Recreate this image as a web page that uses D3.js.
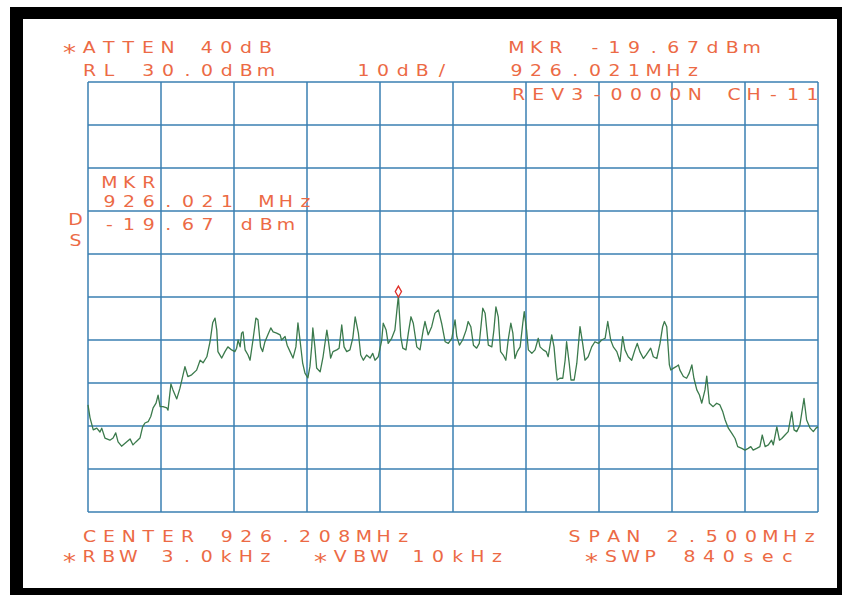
<!DOCTYPE html>
<html><head><meta charset="utf-8">
<script src="https://cdn.jsdelivr.net/npm/d3@7"></script>
<style>html,body{margin:0;padding:0;background:#fff;}svg{display:block;}</style>
</head><body>
<svg id="chart" width="842" height="595"></svg>
<script>
// ---- data ----
const freqMHz = [
924.958, 924.965, 924.976, 924.988, 924.999, 925.005, 925.016, 925.033, 925.044, 925.053,
925.061, 925.073, 925.085, 925.102, 925.112, 925.122, 925.136, 925.145, 925.153, 925.164,
925.173, 925.181, 925.191, 925.198, 925.205, 925.215, 925.228, 925.232, 925.242, 925.249,
925.262, 925.273, 925.290, 925.300, 925.313, 925.330, 925.342, 925.352, 925.365, 925.376,
925.385, 925.393, 925.399, 925.403, 925.416, 925.427, 925.437, 925.450, 925.461, 925.467,
925.472, 925.479, 925.484, 925.489, 925.496, 925.506, 925.513, 925.523, 925.533, 925.540,
925.549, 925.556, 925.564, 925.574, 925.584, 925.592, 925.604, 925.616, 925.621, 925.633,
925.640, 925.650, 925.660, 925.670, 925.677, 925.684, 925.693, 925.701, 925.711, 925.718,
925.724, 925.728, 925.735, 925.741, 925.753, 925.763, 925.776, 925.780, 925.789, 925.797,
925.810, 925.818, 925.827, 925.835, 925.844, 925.855, 925.865, 925.873, 925.884, 925.892,
925.901, 925.912, 925.924, 925.933, 925.941, 925.952, 925.964, 925.969, 925.979, 925.986,
925.998, 926.009, 926.021, 926.029, 926.036, 926.047, 926.055, 926.064, 926.072, 926.084,
926.095, 926.106, 926.112, 926.123, 926.135, 926.146, 926.158, 926.169, 926.181, 926.192,
926.204, 926.215, 926.221, 926.230, 926.241, 926.253, 926.260, 926.269, 926.278, 926.289,
926.298, 926.310, 926.318, 926.329, 926.341, 926.348, 926.355, 926.363, 926.371, 926.380,
926.389, 926.397, 926.406, 926.413, 926.420, 926.428, 926.438, 926.447, 926.452, 926.460,
926.466, 926.478, 926.489, 926.500, 926.506, 926.517, 926.527, 926.534, 926.546, 926.554,
926.561, 926.565, 926.574, 926.584, 926.592, 926.597, 926.606, 926.612, 926.623, 926.632,
926.643, 926.652, 926.660, 926.671, 926.683, 926.694, 926.706, 926.717, 926.729, 926.738,
926.748, 926.757, 926.769, 926.780, 926.789, 926.797, 926.808, 926.820, 926.831, 926.839,
926.848, 926.860, 926.869, 926.877, 926.885, 926.894, 926.906, 926.917, 926.926, 926.932,
926.940, 926.949, 926.954, 926.962, 926.972, 926.980, 926.985, 926.997, 927.008, 927.017,
927.026, 927.033, 927.043, 927.052, 927.060, 927.071, 927.077, 927.086, 927.099, 927.111,
927.122, 927.132, 927.140, 927.151, 927.163, 927.174, 927.183, 927.197, 927.208, 927.219,
927.228, 927.236, 927.248, 927.259, 927.267, 927.277, 927.288, 927.299, 927.305, 927.317,
927.326, 927.334, 927.345, 927.356, 927.368, 927.376, 927.385, 927.396, 927.410, 927.419,
927.431, 927.442, 927.451, 927.458
];
const levelDBm = [
-45.1, -48.1, -50.9, -50.5, -51.4, -50.5, -52.8, -53.3, -52.8, -51.6,
-53.7, -54.7, -54.0, -53.0, -54.4, -53.7, -52.8, -50.2, -49.3, -49.0,
-47.8, -45.8, -44.7, -42.8, -45.5, -45.5, -45.8, -46.3, -40.2, -41.6,
-43.7, -41.2, -36.2, -38.5, -38.1, -37.0, -34.7, -35.3, -33.9, -30.4,
-26.0, -24.9, -27.7, -32.7, -34.2, -32.7, -31.6, -32.3, -32.7, -31.9,
-30.0, -31.6, -28.4, -28.1, -32.3, -33.5, -34.7, -30.0, -24.9, -25.3,
-31.6, -32.7, -30.4, -28.8, -27.2, -28.1, -28.4, -28.8, -30.0, -29.2,
-31.2, -32.7, -34.2, -31.6, -26.0, -30.0, -35.3, -37.7, -38.8, -36.2,
-31.6, -27.2, -31.6, -36.5, -37.4, -33.9, -27.7, -29.5, -34.2, -32.7,
-32.3, -31.9, -26.5, -31.6, -32.7, -32.3, -29.5, -24.6, -28.4, -33.5,
-34.7, -33.5, -34.2, -33.1, -34.7, -33.9, -30.0, -26.1, -27.7, -30.8,
-29.6, -27.7, -19.67, -29.2, -31.9, -32.3, -28.4, -24.6, -26.1, -31.6,
-32.3, -27.7, -25.7, -28.8, -26.9, -23.8, -23.0, -26.1, -30.4, -30.8,
-29.6, -25.3, -29.2, -31.2, -30.0, -27.7, -25.7, -26.9, -31.2, -31.9,
-30.8, -22.6, -23.8, -31.2, -31.6, -27.7, -22.3, -24.6, -32.7, -33.5,
-34.7, -30.0, -26.1, -28.4, -34.3, -32.7, -31.6, -26.1, -23.4, -27.7,
-32.3, -33.1, -32.3, -29.6, -31.6, -32.3, -32.7, -33.9, -28.8, -31.6,
-37.0, -39.3, -38.9, -38.9, -34.7, -30.4, -35.4, -39.3, -39.3, -35.4,
-26.9, -30.8, -34.7, -33.9, -31.6, -30.4, -30.8, -30.0, -29.6, -25.7,
-30.0, -31.6, -32.7, -35.0, -29.2, -32.3, -33.9, -34.7, -32.3, -30.8,
-32.7, -34.3, -33.5, -32.7, -31.9, -33.9, -34.3, -30.8, -26.9, -25.7,
-26.9, -35.8, -37.0, -36.6, -36.2, -35.8, -37.0, -38.5, -38.9, -37.7,
-35.8, -38.9, -41.6, -42.8, -44.7, -41.6, -38.4, -44.7, -45.5, -44.7,
-45.1, -46.7, -48.6, -50.5, -51.7, -52.9, -54.8, -55.2, -55.6, -55.2,
-54.8, -55.6, -55.2, -54.8, -52.1, -54.8, -54.4, -53.3, -54.4, -50.2,
-53.3, -52.9, -52.1, -51.3, -46.7, -50.9, -51.3, -49.8, -43.6, -48.6,
-50.5, -51.3, -50.5, -50.2
];
const centerMHz = 926.208;
const spanMHz = 2.5;
const refLevelDBm = 30;
const dbPerDiv = 10;
const xDivisions = 10;
const yDivisions = 10;
const markerFreqMHz = 926.021;
const markerLevelDBm = -19.67;

// annotation texts: [string, left, baseline]
const annotations = [
  ["*ATTEN 40dB", 63, 53],
  ["RL 30.0dBm", 83, 76.5],
  ["10dB/", 357, 76.5],
  ["MKR -19.67dBm", 510, 53],
  ["926.021MHz", 510, 76.5],
  ["REV3-0000N CH-11", 512, 100],
  ["MKR", 103, 188.3],
  ["926.021 MHz", 103, 206.7],
  ["-19.67 dBm", 103, 230],
  ["D", 69, 225],
  ["S", 69, 246],
  ["CENTER 926.208MHz", 83, 541.7],
  ["SPAN 2.500MHz", 568, 541.7],
  ["*RBW 3.0kHz", 63, 561.7],
  ["*VBW 10kHz", 314, 561.7],
  ["*SWP 840sec", 585, 561.7]
];

// ---- drawing ----
const svg = d3.select("#chart");
const W = 842, H = 595;
const plot = {left: 88, right: 818, top: 82, bottom: 512};
const textColor = "#ec6a45";
const gridColor = "#3a7fb2";
const traceColor = "#3b7a4c";

// black frame
svg.append("rect").attr("x", 10).attr("y", 7).attr("width", W - 10).attr("height", H - 7).attr("fill", "#000");
svg.append("rect").attr("x", 23).attr("y", 19).attr("width", 837 - 23).attr("height", 588 - 19).attr("fill", "#fff");

const fStart = centerMHz - spanMHz / 2, fStop = centerMHz + spanMHz / 2;
const x = d3.scaleLinear().domain([fStart, fStop]).range([plot.left, plot.right]);
const yBottom = refLevelDBm - dbPerDiv * yDivisions;
const y = d3.scaleLinear().domain([yBottom, refLevelDBm]).range([plot.bottom, plot.top]);

const xGrid = d3.range(xDivisions + 1).map(i => fStart + i * spanMHz / xDivisions);
const yGrid = d3.range(yDivisions + 1).map(i => yBottom + i * dbPerDiv);

const grid = svg.append("g");
grid.selectAll("line.v").data(xGrid).join("line")
  .attr("x1", d => x(d)).attr("x2", d => x(d))
  .attr("y1", plot.top).attr("y2", plot.bottom)
  .attr("stroke", gridColor).attr("stroke-width", 1.5);
grid.selectAll("line.h").data(yGrid).join("line")
  .attr("y1", d => y(d)).attr("y2", d => y(d))
  .attr("x1", plot.left).attr("x2", plot.right)
  .attr("stroke", gridColor).attr("stroke-width", 1.5);

// trace
const pts = freqMHz.map((f, i) => [f, levelDBm[i]]);
svg.append("path").datum(pts)
  .attr("d", d3.line().x(d => x(d[0])).y(d => y(d[1])))
  .attr("fill", "none").attr("stroke", traceColor).attr("stroke-width", 1.3)
  .attr("stroke-linejoin", "round");

// marker
svg.append("path")
  .attr("d", d3.symbol(d3.symbolDiamond, 34)())
  .attr("transform", `translate(${x(markerFreqMHz)},${y(markerLevelDBm) - 4})`)
  .attr("fill", "#fff").attr("stroke", "#e0302a").attr("stroke-width", 1.3);

// plotter-style text: fixed pitch cells, glyphs widened horizontally
const pitch = 19.6, half = 6.5, sx = 1.18;
const txt = svg.append("g")
  .attr("transform", `scale(${sx},1)`)
  .attr("font-family", "'DejaVu Sans', sans-serif")
  .attr("font-size", 16)
  .attr("fill", textColor)
  .attr("text-anchor", "middle");
annotations.forEach(([s, lx, by]) => {
  const t = txt.append("text").attr("y", by);
  Array.from(s).forEach((c, i) => {
    const ts = t.append("tspan").attr("x", (lx + half + i * pitch) / sx).text(c);
    if (c === "*") ts.attr("font-size", 22).attr("y", by + 7);
    else ts.attr("y", by);
  });
});
</script>
</body></html>
